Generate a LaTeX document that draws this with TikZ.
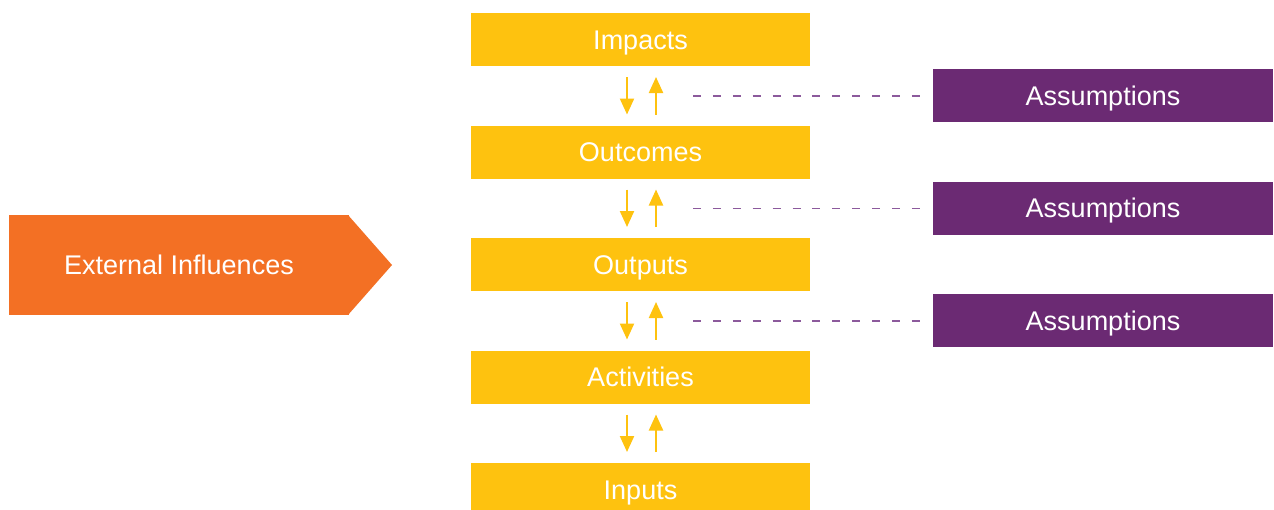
\documentclass[tikz,border=0pt]{standalone}
\usepackage{fontspec}
\setmainfont{Liberation Sans}
\usetikzlibrary{positioning,calc,arrows.meta}
\definecolor{lfyellow}{HTML}{FEC20F}
\definecolor{lforange}{HTML}{F37024}
\definecolor{lfpurple}{HTML}{6B2A73}
\definecolor{lfdash}{HTML}{8C5A9C}

\begin{document}
\begin{tikzpicture}[x=0.5pt, y=-0.5pt]
\tikzstyle{level}=[rectangle, fill=lfyellow, text=white, minimum width=169.5pt, minimum height=26.5pt, inner sep=0pt, outer sep=0pt, text height=9.7pt, text depth=0pt, node distance=29.75pt, font=\fontsize{13.5}{16}\selectfont]
\tikzstyle{assum}=[rectangle, fill=lfpurple, text=white, minimum width=170pt, minimum height=26.5pt, inner sep=0pt, outer sep=0pt, text height=9.7pt, text depth=0pt, font=\fontsize{13.5}{16}\selectfont]
\tikzstyle{connect}=[-{Triangle[width=7pt,length=8pt]}, line width=1.1pt, draw=lfyellow]
\tikzstyle{link}=[draw=lfdash, line width=0.75pt, dash pattern=on 4pt off 5.95pt]
  \useasboundingbox (0,0) rectangle (1274,509);
  \node[level] (impacts) at (640.5,39.5) {Impacts};
  \node[level] (outcomes) [below=of impacts] {Outcomes};
  \node[level] (outputs) [below=of outcomes] {Outputs};
  \node[level] (activities) [below=of outputs] {Activities};
  \node[level] (inputs) [below=of activities] {Inputs};
  \path ([xshift=-6.75pt,yshift=-5.5pt]impacts.south) edge [connect] ([xshift=-6.75pt,yshift=5.5pt]outcomes.north)
        ([xshift=7.75pt,yshift=5.5pt]outcomes.north) edge [connect] ([xshift=7.75pt,yshift=-5.5pt]impacts.south)
        ([xshift=-6.75pt,yshift=-5.5pt]outcomes.south) edge [connect] ([xshift=-6.75pt,yshift=5.5pt]outputs.north)
        ([xshift=7.75pt,yshift=5.5pt]outputs.north) edge [connect] ([xshift=7.75pt,yshift=-5.5pt]outcomes.south)
        ([xshift=-6.75pt,yshift=-5.5pt]outputs.south) edge [connect] ([xshift=-6.75pt,yshift=5.5pt]activities.north)
        ([xshift=7.75pt,yshift=5.5pt]activities.north) edge [connect] ([xshift=7.75pt,yshift=-5.5pt]outputs.south)
        ([xshift=-6.75pt,yshift=-5.5pt]activities.south) edge [connect] ([xshift=-6.75pt,yshift=5.5pt]inputs.north)
        ([xshift=7.75pt,yshift=5.5pt]inputs.north) edge [connect] ([xshift=7.75pt,yshift=-5.5pt]activities.south);
  % assumptions sit between the levels
  \node[assum] (assum1) at ($(impacts.south)!0.5!(outcomes.north)+(462.5,0)$) {Assumptions};
  \node[assum] (assum2) at ($(outcomes.south)!0.5!(outputs.north)+(462.5,0)$) {Assumptions};
  \node[assum] (assum3) at ($(outputs.south)!0.5!(activities.north)+(462.5,0)$) {Assumptions};
  \coordinate (d1) at ($(impacts.east |- assum1)+(-117,0)$);
  \coordinate (d2) at ($(outcomes.east |- assum2)+(-117,0)$);
  \coordinate (d3) at ($(outputs.east |- assum3)+(-117,0)$);
  \path (d1) edge [link] ([xshift=-6.5pt]assum1.west)
        (d2) edge [link] ([xshift=-6.5pt]assum2.west)
        (d3) edge [link] ([xshift=-6.5pt]assum3.west);
  % external influences arrow
  \node[rectangle, fill=lforange, text=white, minimum width=170pt, minimum height=50pt, inner sep=0pt, outer sep=0pt, text height=9.7pt, text depth=0pt, font=\fontsize{13.5}{16}\selectfont] (ext) at (179,265) {External Influences};
  \fill[lforange] ([xshift=-0.5pt]ext.north east) -- ([xshift=21.5pt]ext.east) -- ([xshift=-0.5pt]ext.south east) -- cycle;
\end{tikzpicture}
\end{document}
